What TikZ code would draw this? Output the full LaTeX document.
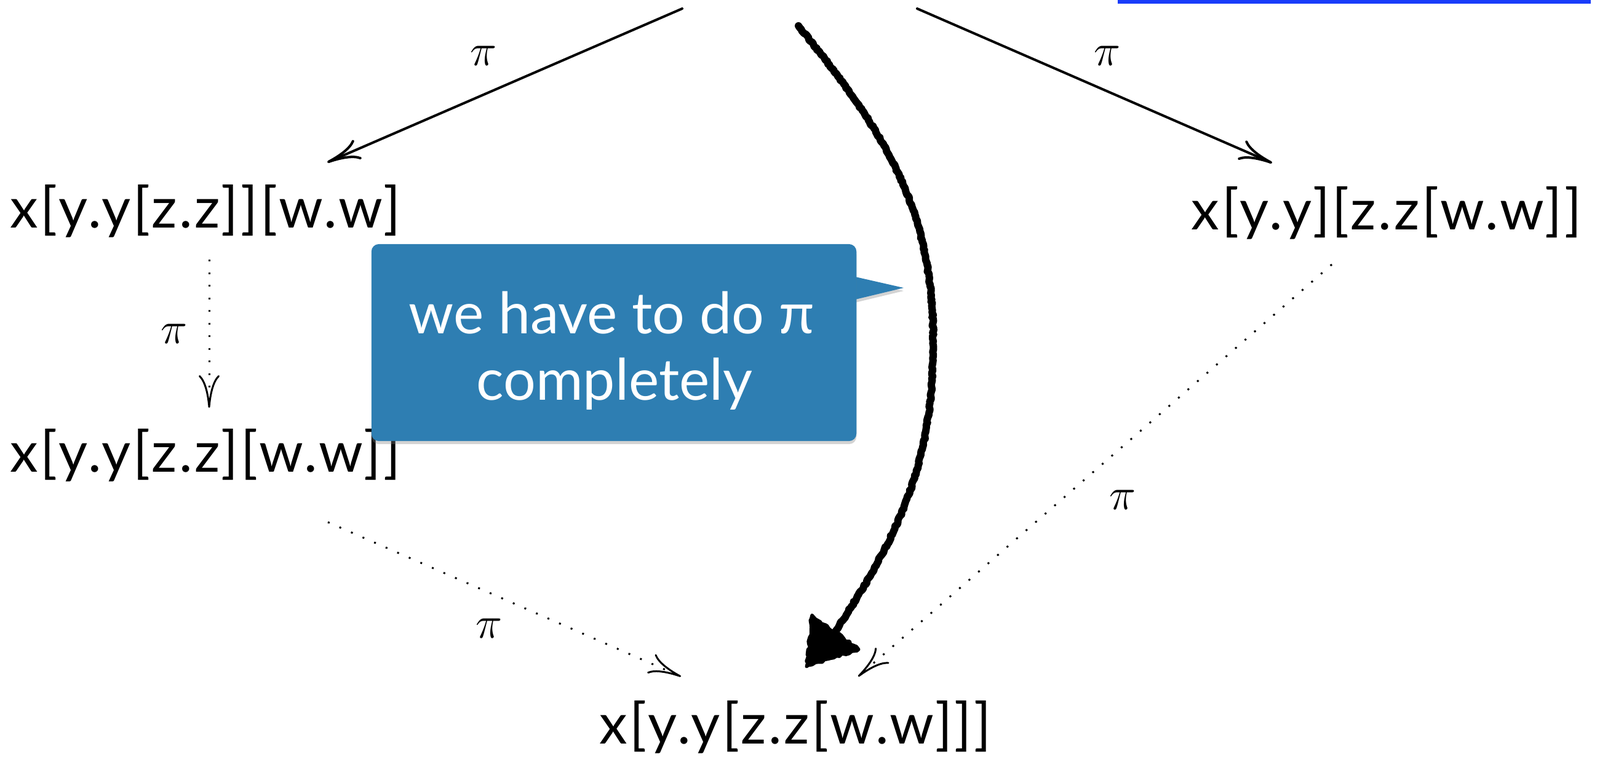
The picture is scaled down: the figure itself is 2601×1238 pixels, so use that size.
\documentclass[tikz,border=0pt]{standalone}
\usepackage{fontspec}
\setmainfont{Lato}
\newfontfamily\termfont[LetterSpace=4.2]{Lato}
\usetikzlibrary{arrows.meta,decorations.pathmorphing,shadows}
\definecolor{callblue}{RGB}{46,126,178}
\definecolor{linkblue}{RGB}{25,60,250}
\begin{document}
\begin{tikzpicture}[x=0.01cm,y=-0.01cm,
  term/.style={anchor=base, inner sep=0pt, font=\termfont\fontsize{26}{30}\selectfont},
  lab/.style={inner sep=0pt, font=\fontsize{21}{24}\selectfont},
  solidarr/.style={line width=0.04cm, line cap=round,
    -{Computer Modern Rightarrow[length=0.54cm,width=0.34cm,line width=0.04cm]}},
  dotarr/.style={line width=0.03cm, dash pattern=on 0.03cm off 0.175cm,
    -{Computer Modern Rightarrow[length=0.53cm,width=0.34cm,line width=0.03cm]}},
  chalk/.style={line width=0.12cm, line cap=round, line join=round,
    decorate, decoration={random steps, segment length=1pt, amplitude=0.35pt}},
  callbox/.style={fill=callblue, rounded corners=0.12cm, inner sep=0pt,
    drop shadow={shadow xshift=0cm, shadow yshift=-0.05cm, opacity=0.35}},
  calltext/.style={anchor=base, inner sep=0pt, text=white, font=\fontsize{26.5}{31}\selectfont}
]
\useasboundingbox (0,0) rectangle (2601,1238);

% blue band at top right
\draw[linkblue, line width=0.06cm] (1817,3) -- (2586,3);

% terms
\node[term] (n1) at (334,370) {x[y.y[z.z]][w.w]};
\node[term] (n2) at (334,767) {x[y.y[z.z][w.w]]};
\node[term] (n3) at (2254,373) {x[y.y][z.z[w.w]]};
\node[term] (n4) at (1293,1209) {x[y.y[z.z[w.w]]]};

% connector end points
\coordinate (topL) at (1109,14);
\coordinate (topR) at (1491,14);
\coordinate (n1in) at (532,264);
\coordinate (n3in) at (2068,265);
\coordinate (n1out) at (340,422);
\coordinate (n2in) at (340,663);
\coordinate (n2out) at (533,849);
\coordinate (n4inL) at (1107,1100);
\coordinate (n3out) at (2165,430);
\coordinate (n4inR) at (1395,1100);

\draw[solidarr] (topL) -- (n1in);
\draw[solidarr] (topR) -- (n3in);
\draw[dotarr] (n1out) -- (n2in);
\draw[dotarr] (n2out) -- (n4inL);
\draw[dotarr] (n3out) -- (n4inR);

% labels
\node[lab] (l1) at (786,91) {$\pi$};
\node[lab] (l2) at (1800,91) {$\pi$};
\node[lab] (l3) at (283,543) {$\pi$};
\node[lab] (l4) at (795,1022) {$\pi$};
\node[lab] (l5) at (1825,813) {$\pi$};

% thick chalk arrow
\coordinate (thickS) at (1298,42);
\coordinate (thickM) at (1517,555);
\coordinate (thickE) at (1350,1038);
\draw[chalk] (thickS) .. controls (1437,214) and (1517,335) .. (thickM)
  .. controls (1517,745) and (1470,860) .. (thickE);
\fill[line width=0.05cm, draw, line join=round, decorate, decoration={random steps, segment length=1.5pt, amplitude=0.6pt}]
  (1320,1000) -- (1396,1056) -- (1311,1084) -- cycle;

% callout
\fill[callblue, drop shadow={shadow xshift=0cm, shadow yshift=-0.05cm, opacity=0.35}]
  (1390,450) -- (1469,468) -- (1390,487) -- cycle;
\node[callbox, minimum width=7.88cm, minimum height=3.2cm] (callout) at (998,557) {};
\node[calltext] (ct1) at (994,542) {we have to do π};
\node[calltext] (ct2) at (999,650) {completely};
\end{tikzpicture}
\end{document}
